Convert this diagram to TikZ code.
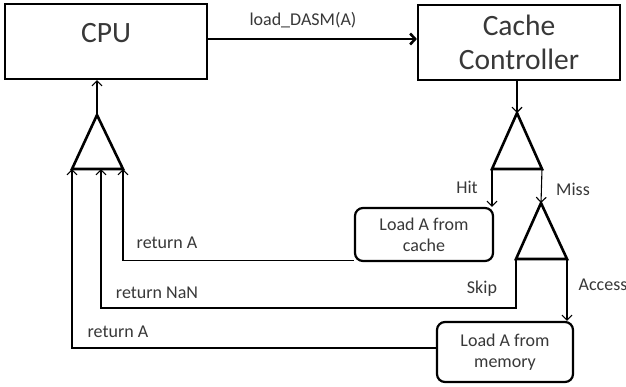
\documentclass[tikz,border=0pt]{standalone}
\usepackage{fontspec}
\setmainfont{Carlito}
\usetikzlibrary{arrows.meta,calc}
\definecolor{txt}{HTML}{383838}
\tikzset{
  unitbox/.style={draw, line width=2.2pt, inner sep=0pt},
  roundbox/.style={draw, line width=2.2pt, rounded corners=8pt, inner sep=0pt,
    align=center, font=\fontsize{18}{21}\selectfont, text=txt},
  bigtext/.style={font=\fontsize{29.5}{34}\selectfont, text=txt, align=center},
  smalltext/.style={font=\fontsize{18}{21}\selectfont, text=txt},
  wire/.style={line width=1.1pt},
  tri/.style={line width=2.6pt, line join=miter},
  tip/.style={-{Straight Barb[length=5pt,width=10pt,line width=1.1pt]}},
}
\begin{document}
\begin{tikzpicture}[x=1pt,y=-1pt]
  \useasboundingbox (0,0) rectangle (626,386);
  \fill[white] (0,0) rectangle (626,386);

  % main blocks
  \node[unitbox, minimum width=202pt, minimum height=75pt] (cpu) at (106,41.5) {};
  \node[bigtext] (cpulabel) at (106,33) {CPU};
  \node[unitbox, bigtext, minimum width=202pt, minimum height=75pt] (cc) at (519,42.5) {Cache\\Controller};

  \node[roundbox, minimum width=138pt, minimum height=53pt] (lc) at (424,234.5) {Load A from\\cache};
  \node[roundbox, minimum width=136pt, minimum height=60pt] (lm) at (505,352) {Load A from\\memory};

  % multiplexer / decision triangles
  \coordinate (t1a) at (97,115);  \coordinate (t1l) at (72,169);
  \coordinate (t1m) at (101,169); \coordinate (t1r) at (123,169);
  \coordinate (t2a) at (517,113); \coordinate (t2l) at (492,169);
  \coordinate (t2r) at (542,169);
  \coordinate (t3a) at (541,203); \coordinate (t3l) at (516,259);
  \coordinate (t3r) at (567,259);
  \draw[tri] (t1a) -- (t1l) -- (t1r) -- cycle;
  \draw[tri] (t2a) -- (t2l) -- (t2r) -- cycle;
  \draw[tri] (t3a) -- (t3l) -- (t3r) -- cycle;

  % request path
  \draw[line width=2.6pt, -{Straight Barb[length=5pt,width=11pt,line width=2.6pt]}] (cpu.east |- 0,39) -- (cc.west |- 0,39);
  \node[smalltext] (reqlabel) at (303,20) {load\_DASM(A)};
  \draw[wire, tip] (cc.south -| t2a) -- (t2a);
  \draw[wire, tip] (t2l) -- (t2l |- lc.north);
  \draw[wire, tip] (t2r) -- (t3a);
  \draw[wire, tip] (t3r) -- (t3r |- lm.north);

  % return paths
  \coordinate (skip) at (516,308);
  \draw[wire, tip] ($(lc.south west)+(0,-2)$) -| (t1r);
  \draw[wire, tip] (t3l) -- (skip) -| (t1m);
  \draw[line width=1.5pt, tip] ($(lm.west)+(0,-4)$) -| (t1l);
  \draw[wire, tip] (t1a) -- (cpu.south -| t1a);

  % path labels
  \node[smalltext] (hit) at (467,187) {Hit};
  \node[smalltext] (miss) at (573,189) {Miss};
  \node[smalltext] (skiplabel) at (482,289) {Skip};
  \node[smalltext] (access) at (603,285) {Access};
  \node[smalltext] (retc) at (167,243) {return A};
  \node[smalltext] (retn) at (157,293) {return NaN};
  \node[smalltext] (retm) at (118,332) {return A};
\end{tikzpicture}
\end{document}
